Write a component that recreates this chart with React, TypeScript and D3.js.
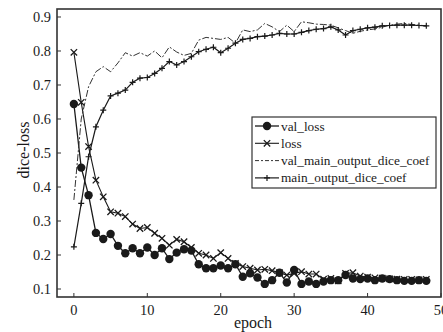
import { useMemo } from "react";
import * as d3 from "d3";

// epochs 0..48
const epochs = d3.range(0, 49);

const valLoss = [
  0.644, 0.457, 0.376, 0.265, 0.247, 0.262, 0.227, 0.205, 0.22, 0.205,
  0.222, 0.2, 0.22, 0.188, 0.207, 0.217, 0.213, 0.173, 0.161, 0.161,
  0.169, 0.161, 0.173, 0.136, 0.146, 0.134, 0.115, 0.126, 0.148, 0.119,
  0.156, 0.115, 0.122, 0.115, 0.122, 0.126, 0.126, 0.141, 0.131, 0.129,
  0.131, 0.126, 0.131, 0.129, 0.126, 0.124, 0.124, 0.126, 0.124,
];

const loss = [
  0.796, 0.649, 0.519, 0.42, 0.371, 0.327, 0.323, 0.313, 0.291, 0.278,
  0.281, 0.264, 0.249, 0.229, 0.246, 0.239, 0.222, 0.205, 0.2, 0.19,
  0.207, 0.19, 0.175, 0.166, 0.161, 0.156, 0.158, 0.154, 0.148, 0.141,
  0.146, 0.151, 0.144, 0.144, 0.129, 0.131, 0.124, 0.146, 0.148, 0.138,
  0.135, 0.133, 0.132, 0.13, 0.129, 0.128, 0.128, 0.127, 0.128,
];

const valDice = [
  0.362, 0.6, 0.695, 0.739, 0.754, 0.739, 0.765, 0.795, 0.785, 0.795,
  0.785, 0.8, 0.78, 0.812, 0.797, 0.787, 0.793, 0.832, 0.84, 0.837,
  0.834, 0.84, 0.823, 0.862, 0.857, 0.862, 0.881, 0.871, 0.857, 0.876,
  0.857, 0.886, 0.883, 0.879, 0.878, 0.876, 0.868, 0.86, 0.852, 0.858,
  0.862, 0.865, 0.87, 0.876, 0.879, 0.881, 0.878, 0.876, 0.874,
];

const mainDice = [
  0.224, 0.352, 0.489, 0.577, 0.626, 0.668, 0.676, 0.685, 0.708, 0.72,
  0.722, 0.734, 0.749, 0.769, 0.759, 0.769, 0.783, 0.798, 0.805, 0.811,
  0.795, 0.808, 0.823, 0.834, 0.837, 0.842, 0.844, 0.847, 0.852, 0.85,
  0.85, 0.855, 0.86, 0.864, 0.866, 0.871, 0.862, 0.847, 0.86, 0.864,
  0.868, 0.87, 0.874, 0.875, 0.876, 0.876, 0.876, 0.875, 0.874,
];

const xTicks = [0, 10, 20, 30, 40, 50];
const yTicks = [0.1, 0.2, 0.3, 0.4, 0.5, 0.6, 0.7, 0.8, 0.9];

const seriesNames = ["val_loss", "loss", "val_main_output_dice_coef", "main_output_dice_coef"];

const W = 443;
const H = 332;
const margin = { left: 57, right: 2, top: 9, bottom: 35 };
const FONT = "'Liberation Serif', 'DejaVu Serif', serif";
const INK = "#1a1a1a";

type Marker = "circle" | "x" | "none" | "plus";

function MarkerShape({ type, x, y }: { type: Marker; x: number; y: number }) {
  if (type === "circle") return <circle cx={x} cy={y} r={4.2} fill={INK} />;
  if (type === "x") {
    const s = 3.2;
    return (
      <path
        d={`M${x - s},${y - s}L${x + s},${y + s}M${x - s},${y + s}L${x + s},${y - s}`}
        stroke={INK}
        strokeWidth={1.3}
      />
    );
  }
  if (type === "plus") {
    const s = 3;
    return (
      <path
        d={`M${x - s},${y}L${x + s},${y}M${x},${y - s}L${x},${y + s}`}
        stroke={INK}
        strokeWidth={1.2}
      />
    );
  }
  return null;
}

export default function App() {
  const x = useMemo(
    () => d3.scaleLinear().domain([-2.3, 50]).range([margin.left, W - margin.right]),
    []
  );
  const y = useMemo(
    () => d3.scaleLinear().domain([0.0765, 0.9235]).range([H - margin.bottom, margin.top]),
    []
  );

  const series: { name: string; values: number[]; marker: Marker; dash?: string; width: number; color: string }[] = [
    { name: seriesNames[0], values: valLoss, marker: "circle", width: 1.3, color: INK },
    { name: seriesNames[1], values: loss, marker: "x", width: 1.1, color: INK },
    { name: seriesNames[2], values: valDice, marker: "none", dash: "7,2,2,2", width: 1, color: "#333" },
    { name: seriesNames[3], values: mainDice, marker: "plus", width: 1.2, color: INK },
  ];

  const line = d3
    .line<number>()
    .x((_, i) => x(epochs[i]))
    .y((d) => y(d));

  const x0 = margin.left;
  const x1 = W - margin.right;
  const y0 = H - margin.bottom;
  const y1 = margin.top;

  const legend = { x: 252, y: 117, w: 184, h: 71, row: 17.3 };

  return (
    <svg
      width={W}
      height={H}
      style={{ position: "absolute", left: 0, top: 0, background: "#fff" }}
      fontFamily={FONT}
    >
      {/* series */}
      {series.map((s) => (
        <g key={s.name}>
          <path
            d={line(s.values) ?? ""}
            fill="none"
            stroke={s.color}
            strokeWidth={s.width}
            strokeDasharray={s.dash}
          />
          {s.values.map((v, i) => (
            <MarkerShape key={i} type={s.marker} x={x(epochs[i])} y={y(v)} />
          ))}
        </g>
      ))}

      {/* frame */}
      <rect x={x0} y={y1} width={x1 - x0} height={y0 - y1} fill="none" stroke="#333" strokeWidth={1.6} />

      {/* x ticks */}
      {xTicks.map((t) => (
        <g key={t}>
          <line x1={x(t)} x2={x(t)} y1={y0} y2={y0 - 4} stroke="#333" strokeWidth={1} />
          <text x={x(t)} y={y0 + 18} textAnchor="middle" fontSize={14.4} fill={INK}>
            {t}
          </text>
        </g>
      ))}

      {/* y ticks */}
      {yTicks.map((t) => (
        <g key={t}>
          <line x1={x0} x2={x0 + 4} y1={y(t)} y2={y(t)} stroke="#333" strokeWidth={1} />
          <text x={x0 - 6} y={y(t) + 5} textAnchor="end" fontSize={14.4} fill={INK}>
            {t.toFixed(1)}
          </text>
        </g>
      ))}

      <text x={(x0 + x1) / 2 + 4} y={H - 4} textAnchor="middle" fontSize={16} fill={INK}>
        epoch
      </text>
      <text
        transform={`translate(29,${(y0 + y1) / 2 - 3}) rotate(-90)`}
        textAnchor="middle"
        fontSize={16}
        fill={INK}
      >
        dice-loss
      </text>

      {/* legend */}
      <rect x={legend.x} y={legend.y} width={legend.w} height={legend.h} fill="#fff" stroke="#333" strokeWidth={1.2} />
      {series.map((s, i) => {
        const ly = legend.y + 9 + i * legend.row;
        return (
          <g key={s.name}>
            <line
              x1={legend.x + 3}
              x2={legend.x + 27}
              y1={ly}
              y2={ly}
              stroke={s.color}
              strokeWidth={s.width}
              strokeDasharray={s.dash ? "4,2,2,2" : undefined}
            />
            <MarkerShape type={s.marker} x={legend.x + 15} y={ly} />
            <text x={legend.x + 29} y={ly + 4.5} fontSize={13.3} fill={INK}>
              {s.name}
            </text>
          </g>
        );
      })}
    </svg>
  );
}
